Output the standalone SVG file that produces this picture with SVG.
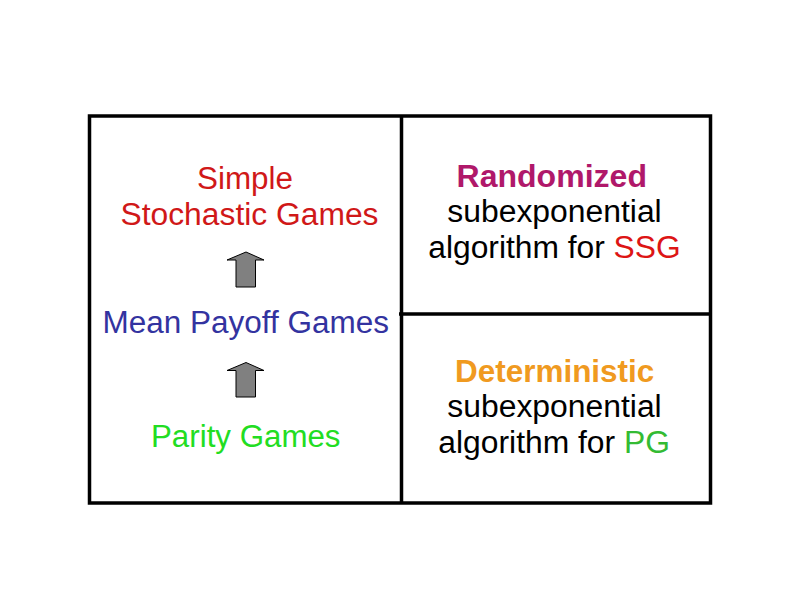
<svg xmlns="http://www.w3.org/2000/svg" width="794" height="595" viewBox="0 0 794 595">
<style>
text{font-family:"Liberation Sans",Arial,sans-serif;font-size:31px}
.b{font-weight:bold}
.frame{fill:none;stroke:#000;stroke-width:3.5}
.arrow{fill:#808080;stroke:#000;stroke-width:1}
</style>
<rect width="794" height="595" fill="#fff"/>
<g id="frame">
<rect class="frame" x="89.5" y="116" width="621" height="387"/>
<line class="frame" x1="401.5" y1="116" x2="401.5" y2="503"/>
<line class="frame" x1="399" y1="314" x2="710" y2="314"/>
</g>
<g id="connectors">
<path class="arrow" d="M236,287 L236,260 L227,260 L246,252 L264,260 L255.5,260 L255.5,287 Z"/>
<path class="arrow" d="M236,397 L236,370.5 L227,370.5 L246,362.5 L264,370.5 L255.5,370.5 L255.5,397 Z"/>
</g>
<g id="ssg">
<text x="197" y="189" textLength="96" lengthAdjust="spacingAndGlyphs" fill="#D01818">Simple</text>
<text x="120.5" y="225" textLength="258" lengthAdjust="spacingAndGlyphs" fill="#D01818">Stochastic Games</text>
</g>
<g id="mpg">
<text x="102.5" y="333" textLength="286.5" lengthAdjust="spacingAndGlyphs" fill="#3333A0">Mean Payoff Games</text>
</g>
<g id="pg">
<text x="151" y="447" textLength="189.5" lengthAdjust="spacingAndGlyphs" fill="#22DD22">Parity Games</text>
</g>
<g id="randomized">
<text class="b" x="456.5" y="187" textLength="190.5" lengthAdjust="spacingAndGlyphs" fill="#B0186A">Randomized</text>
<text x="447.3" y="222" textLength="214.4" lengthAdjust="spacingAndGlyphs" fill="#000">subexponential</text>
<text x="428.3" y="258" textLength="252.4" lengthAdjust="spacingAndGlyphs" fill="#000">algorithm for <tspan fill="#DD1515">SSG</tspan></text>
</g>
<g id="deterministic">
<text class="b" x="455" y="382" textLength="199.3" lengthAdjust="spacingAndGlyphs" fill="#F09A20">Deterministic</text>
<text x="447.3" y="417" textLength="214.4" lengthAdjust="spacingAndGlyphs" fill="#000">subexponential</text>
<text x="438.3" y="452.5" textLength="231.7" lengthAdjust="spacingAndGlyphs" fill="#000">algorithm for <tspan fill="#33BB33">PG</tspan></text>
</g>
</svg>
